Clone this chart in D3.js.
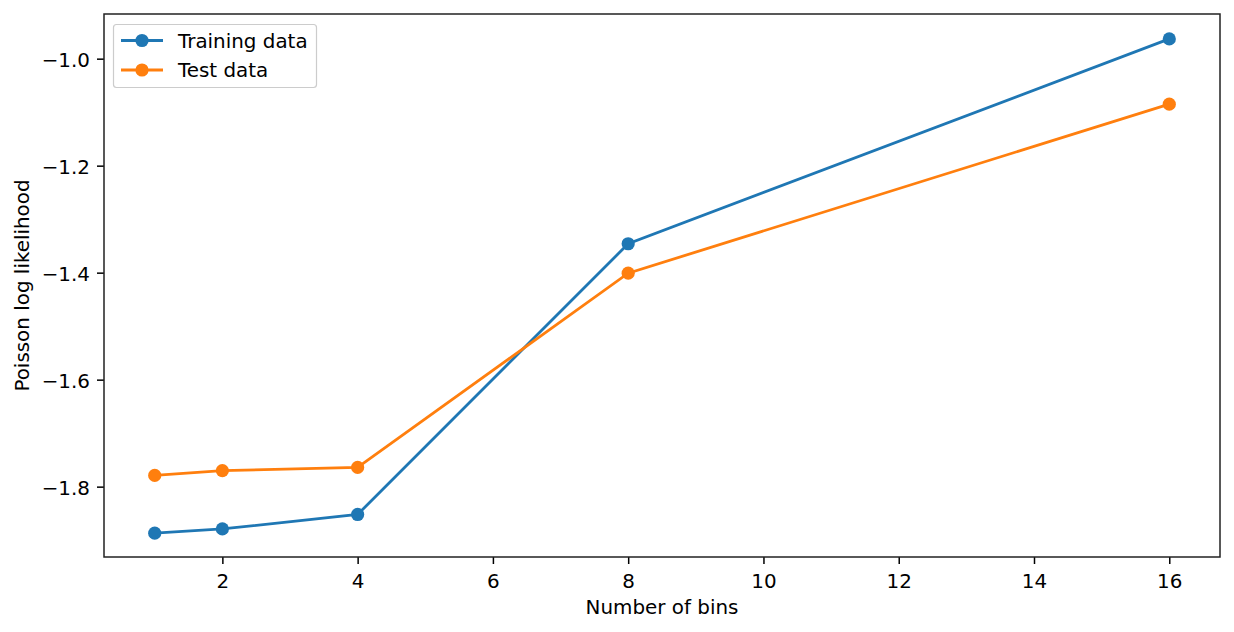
<!DOCTYPE html>
<html><head><meta charset="utf-8">
<script src="https://cdn.jsdelivr.net/npm/d3@7"></script>
<style>body{margin:0;background:#fff}svg{display:block}text{font-family:"DejaVu Sans",sans-serif;fill:#000}</style>
</head><body><svg id="c" width="1234" height="632"></svg>
<script>
const bins = [1, 2, 4, 8, 16];
const trainingValues = [-1.887, -1.879, -1.852, -1.346, -0.963];
const testValues = [-1.779, -1.770, -1.764, -1.401, -1.085];
const xTicks = [2, 4, 6, 8, 10, 12, 14, 16];
const yTicks = [-1.8, -1.6, -1.4, -1.2, -1.0];
const seriesNames = ["Training data", "Test data"];
const colors = ["#1f77b4", "#ff7f0e"];

const FS = 19.9;
const svg = d3.select("#c");
const L = 104, R = 1220, T = 14, B = 557;
const x = d3.scaleLinear().domain([0.25, 16.75]).range([L, R]);
const y = d3.scaleLinear().domain([-1.9315, -0.9165]).range([B, T]);

const fmt = v => (v < 0 ? "\u2212" : "") + Math.abs(v).toFixed(1);

const gx = svg.append("g").attr("transform", `translate(0,${B})`)
  .call(d3.axisBottom(x).tickValues(xTicks).tickSize(7).tickPadding(9.5).tickFormat(d3.format("d")));
const gy = svg.append("g").attr("transform", `translate(${L},0)`)
  .call(d3.axisLeft(y).tickValues(yTicks).tickSize(7).tickPadding(7).tickFormat(fmt));
[gx, gy].forEach(g => {
  g.select(".domain").remove();
  g.selectAll("line").attr("stroke", "#000").attr("stroke-width", 1.5);
  g.selectAll("text").attr("font-size", FS).attr("font-family", "DejaVu Sans");
});
gy.selectAll("text").attr("dy", "0.4em");

const series = [trainingValues, testValues];
const line = d3.line().x((d, i) => x(bins[i])).y(d => y(d));
series.forEach((vals, s) => {
  svg.append("path").datum(vals).attr("d", line).attr("fill", "none")
    .attr("stroke", colors[s]).attr("stroke-width", 2.8);
  svg.selectAll(null).data(vals).enter().append("circle")
    .attr("cx", (d, i) => x(bins[i])).attr("cy", d => y(d)).attr("r", 6.6).attr("fill", colors[s]);
});

svg.append("rect").attr("x", L).attr("y", T).attr("width", R - L).attr("height", B - T)
  .attr("fill", "none").attr("stroke", "#222").attr("stroke-width", 1.5);

svg.append("text").attr("x", (L + R) / 2).attr("y", 614).attr("text-anchor", "middle")
  .attr("font-size", FS).text("Number of bins");
svg.append("text").attr("transform", `translate(29,${(T + B) / 2}) rotate(-90)`).attr("text-anchor", "middle")
  .attr("font-size", FS).text("Poisson log likelihood");

const lg = svg.append("g");
lg.append("rect").attr("x", 113.5).attr("y", 24.5).attr("width", 203).attr("height", 63).attr("rx", 3)
  .attr("fill", "#fff").attr("fill-opacity", 0.8).attr("stroke", "#ccc").attr("stroke-width", 1.2);
seriesNames.forEach((n, i) => {
  const yy = 40.5 + i * 29.5;
  lg.append("line").attr("x1", 121).attr("x2", 163).attr("y1", yy).attr("y2", yy)
    .attr("stroke", colors[i]).attr("stroke-width", 2.8);
  lg.append("circle").attr("cx", 142).attr("cy", yy).attr("r", 6.6).attr("fill", colors[i]);
  lg.append("text").attr("x", 178).attr("y", yy + 7).attr("font-size", FS).text(n);
});
</script></body></html>
